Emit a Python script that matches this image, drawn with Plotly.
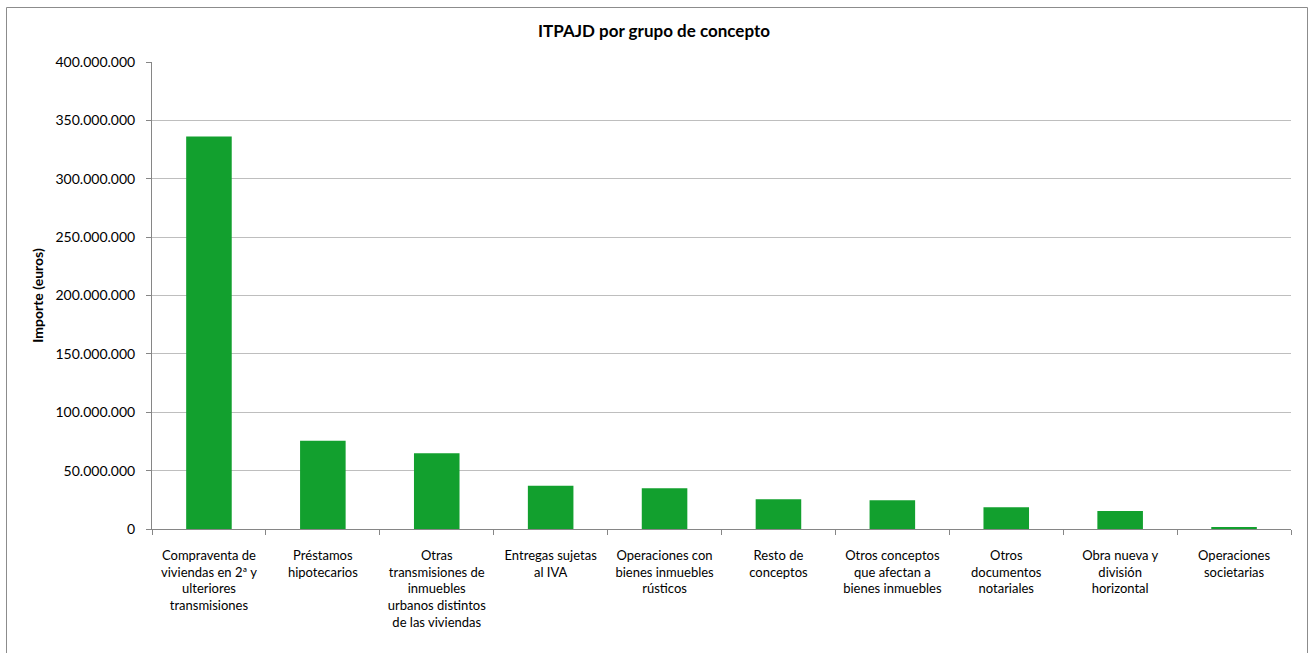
import plotly.graph_objects as go

categories = [
    "Compraventa de<br>viviendas en 2ª y<br>ulteriores<br>transmisiones",
    "Préstamos<br>hipotecarios",
    "Otras<br>transmisiones de<br>inmuebles<br>urbanos distintos<br>de las viviendas",
    "Entregas sujetas<br>al IVA",
    "Operaciones con<br>bienes inmuebles<br>rústicos",
    "Resto de<br>conceptos",
    "Otros conceptos<br>que afectan a<br>bienes inmuebles",
    "Otros<br>documentos<br>notariales",
    "Obra nueva y<br>división<br>horizontal",
    "Operaciones<br>societarias",
]
values = [336200000, 75600000, 64800000, 37100000, 34800000,
          25400000, 24600000, 18600000, 15400000, 1500000]
y_ticks = [0, 50000000, 100000000, 150000000, 200000000,
           250000000, 300000000, 350000000, 400000000]

FONT = "Lato, 'Open Sans', sans-serif"

fig = go.Figure(go.Bar(
    x=categories, y=values,
    marker=dict(color="#12A02E", line=dict(width=0)),
    width=0.4,
))

W, H = 1308, 653
L, R, T, B = 152, 17, 62, 124
pw, ph = W - L - R, H - T - B

def px_x(x):
    return (x - L) / pw

def px_y(y):
    return (H - B - y) / ph

fig.update_layout(
    width=W, height=H,
    margin=dict(l=L, r=R, t=T, b=B, autoexpand=False),
    paper_bgcolor="white", plot_bgcolor="rgba(0,0,0,0)",
    separators=",.",
    font=dict(family=FONT, size=13, color="#000000"),
    showlegend=False,
    title=dict(text="<b>ITPAJD por grupo de concepto</b>", x=0.5, xanchor="center",
               y=1 - 31 / H, yanchor="middle", font=dict(size=17, family=FONT)),
    xaxis=dict(
        type="category", showgrid=False, showline=True, linecolor="#868686", linewidth=1,
        ticks="outside", tickson="boundaries", ticklen=5, tickcolor="#868686",
        tickfont=dict(size=13, family=FONT), tickangle=0, ticklabelstandoff=14,
    ),
    yaxis=dict(
        range=[0, 400000000], tickvals=y_ticks, tickformat=",d",
        showgrid=True, gridcolor="#BEBEBE", gridwidth=1,
        showline=True, linecolor="#868686", linewidth=1,
        ticks="outside", ticklen=5, tickcolor="#868686",
        tickfont=dict(size=14, family=FONT), zeroline=False, ticklabelstandoff=8,
        title=dict(text="<b>Importe (euros)</b>", font=dict(size=14, family=FONT), standoff=8),
    ),
    shapes=[dict(type="rect", xref="paper", yref="paper",
                 x0=px_x(6.5), x1=px_x(1307.5), y0=px_y(670), y1=px_y(7.5),
                 line=dict(color="#8C8C8C", width=1), layer="below")],
)

fig.write_html("out.html", config={"displayModeBar": False},
               post_script="document.body.style.margin='0px';document.body.style.overflow='hidden';")
